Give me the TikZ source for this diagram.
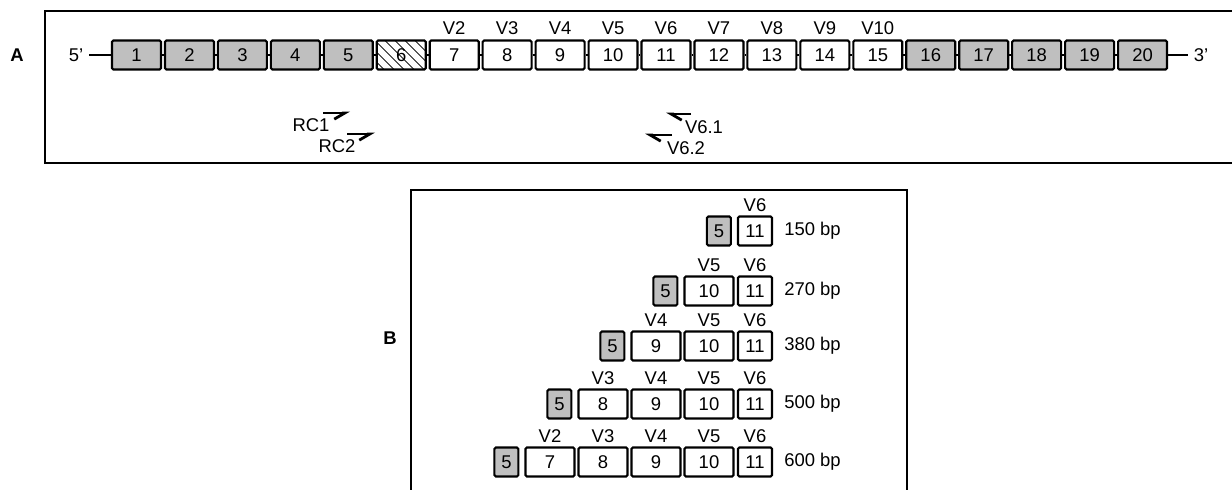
\documentclass[tikz,border=0pt]{standalone}
\usepackage{fontspec}
\setmainfont{Liberation Sans}
\usetikzlibrary{arrows.meta,patterns.meta,positioning}

\tikzset{
  exon/.style={draw, line width=1.2pt, rounded corners=0.8pt, minimum width=0.98cm,
    minimum height=0.58cm, inner sep=0pt, fill=white},
  const/.style={exon, fill=gray!50},
  hatched/.style={draw, line width=1.2pt, rounded corners=0.8pt, minimum width=0.98cm,
    minimum height=0.58cm, inner sep=0pt, pattern={Lines[angle=-45,distance=4pt,line width=0.5pt]}},
  lastex/.style={exon, minimum width=0.68cm},
  shortex/.style={const, minimum width=0.48cm},
  primer/.style={line width=1.1pt, -{Straight Barb[right,length=6pt,width=7pt,line width=1.6pt]}},
  rprimer/.style={line width=1.1pt, -{Straight Barb[left,length=6pt,width=7pt,line width=1.6pt]}},
  frame/.style={line width=1.3pt},
  panel/.style={font=\fontsize{10.5}{12}\selectfont\bfseries},
}

\begin{document}
\begin{tikzpicture}[x=0.02cm,y=-0.02cm,font=\fontsize{10.5}{12}\selectfont]
\useasboundingbox (0,0) rectangle (1232,490);

% panel A
\draw[frame] (1232,11) -- (45,11) -- (45,163) -- (1232,163);
\node[panel] (la) at (17,55) {A};
\node (five) at (76,55) {5'};
\foreach \i in {1,...,5}
  \node[const] (e\i) at ({136.5+(\i-1)*52.95},55) {\i};
\node[hatched] (e6) at ({136.5+5*52.95},55) {6};
\foreach \i in {7,...,15}{
  \pgfmathtruncatemacro\v{\i-5}
  \node[exon] (e\i) at ({136.5+(\i-1)*52.95},55) {\i};
  \node (v\i) at ({136.5+(\i-1)*52.95},28) {V\v};
}
\foreach \i in {16,...,20}
  \node[const] (e\i) at ({136.5+(\i-1)*52.95},55) {\i};
\node (three) at (1201,55) {3'};
\draw[line width=1.2pt] (five) -- (e1);
\foreach \i in {1,...,19}{
  \pgfmathtruncatemacro\j{\i+1}
  \draw[line width=1.2pt] (e\i) -- (e\j);
}
\draw[line width=1.2pt] (e20) -- (three);

% primers
\node (rc1) at (311,125) {RC1};
\node (rc2) at (337,146) {RC2};
\node (v61) at (704,127) {V6.1};
\node (v62) at (686,148) {V6.2};
\coordinate (rc1a) at (323,113); \coordinate (rc1b) at (350,113);
\coordinate (rc2a) at (347,134); \coordinate (rc2b) at (375,134);
\coordinate (v61a) at (691,114); \coordinate (v61b) at (666,114);
\coordinate (v62a) at (672,135); \coordinate (v62b) at (645,135);
\draw[primer] (rc1a) -- (rc1b);
\draw[primer] (rc2a) -- (rc2b);
\draw[rprimer] (v61a) -- (v61b);
\draw[rprimer] (v62a) -- (v62b);

% panel B
\draw[frame] (411,490) -- (411,190) -- (907,190) -- (907,490);
\node[panel] (lb) at (390,338) {B};
\foreach \r/\y/\bp in {1/231/150,2/291/270,3/346/380,4/404/500,5/462/600}{
  \pgfmathtruncatemacro\first{12-\r}
  \node[lastex] (b\r-11) at (755,\y) {11};
  \node (w\r-11) at (755,\y-26) {V6};
  \ifnum\first<11
  \foreach \n in {\first,...,10}{
    \pgfmathtruncatemacro\v{\n-5}
    \node[exon] (b\r-\n) at ({709-(10-\n)*53},\y) {\n};
    \node (w\r-\n) at ({709-(10-\n)*53},\y-26) {V\v};
  }
  \fi
  \node[shortex, left=0.1cm of b\r-\first] (b\r-5) {5};
  \node[right=0.1cm of b\r-11] (s\r) {\bp{} bp};
}
\end{tikzpicture}
\end{document}
